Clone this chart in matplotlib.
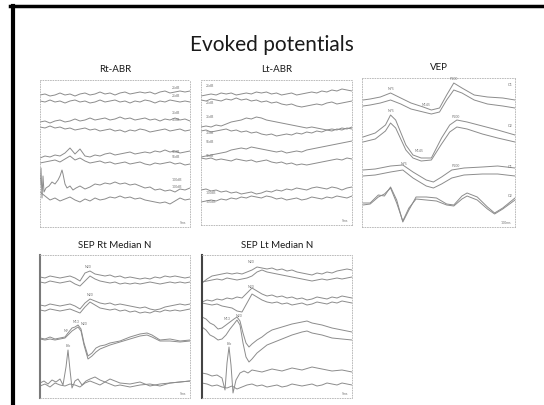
import numpy as np
import matplotlib
matplotlib.use('Agg')
import matplotlib.pyplot as plt
from matplotlib.lines import Line2D

plt.rcParams['font.family'] = ['Lato', 'DejaVu Sans']

# sweep positions (0-150 across each panel), amplitudes as offsets from panel top
grid = np.arange(0, 151, 5)

# ---- Rt-ABR ----
rt_abr = [
    (grid, [15,14,16,15,13,15,14,16,14,13,15,14,12,14,13,15,13,12,14,13,12,13,12,14,12,11,13,12,11,12,11]),
    (grid, [21,22,20,22,21,23,21,20,22,21,23,22,20,22,21,20,22,21,23,21,22,20,21,23,21,22,20,21,22,21,22]),
    (grid, [42,41,43,41,40,42,41,39,41,40,38,40,39,38,40,39,37,39,38,40,39,38,40,39,41,39,40,38,40,39,41]),
    (grid, [47,48,46,48,47,49,48,50,49,48,50,49,51,50,49,51,50,52,50,51,49,50,52,51,50,49,51,50,49,51,50]),
    (grid, [78,76,77,75,76,73,68,74,69,76,77,75,76,74,73,75,74,73,72,74,73,72,73,71,72,70,72,71,73,72,71]),
    (grid, [83,82,81,80,82,79,76,80,78,81,83,82,81,83,82,84,83,82,84,83,82,84,85,83,84,83,82,84,83,85,84]),
    ([0,1,2,3,4,6,9,12,15,18,20,22,23,25,27,30,33,36,40,45,50,55,60,65,70,75,80,85,90,95,100,105,110,115,120,125,130,135,140,145,150],
     [105,88,118,96,112,108,106,102,104,100,96,90,94,104,108,106,110,108,106,109,107,104,105,103,104,102,104,103,105,104,106,108,107,110,109,111,110,112,109,110,108]),
    (grid, [112,116,120,118,121,119,117,120,122,119,121,118,120,119,117,118,116,118,117,119,118,120,121,122,123,122,124,121,118,120,119]),
]
rt_abr_labels = [(132, 8, '25dB'), (132, 16, '25dB'), (132, 33, '35dB'), (132, 40, '35dB'),
                 (132, 72, '55dB'), (132, 77, '55dB'), (132, 100, '100dB'), (132, 107, '100dB')]

# ---- Lt-ABR ----
lt_abr = [
    (grid, [16,15,14,15,13,14,13,15,14,13,14,12,13,12,14,13,15,14,13,15,14,13,12,13,11,12,10,11,9,10,11]),
    (grid, [20,21,19,20,21,19,20,18,20,19,21,20,22,21,23,22,24,25,24,26,27,26,25,24,25,23,22,24,23,22,21]),
    (grid, [47,46,47,45,46,44,42,41,40,38,39,37,38,40,41,42,43,44,45,46,47,48,47,48,49,50,49,50,48,49,47]),
    (grid, [51,50,52,51,50,49,51,50,52,51,53,52,54,55,54,56,55,54,55,53,54,52,53,51,52,50,51,49,50,48,49]),
    (grid, [77,76,75,74,73,72,70,69,68,69,67,68,69,70,71,72,71,73,72,71,72,70,69,68,67,66,65,64,63,62,61]),
    (grid, [78,79,78,80,79,80,81,79,80,81,80,82,81,80,82,83,82,84,83,85,84,85,84,83,82,81,80,79,80,78,79]),
    (grid, [110,109,111,110,112,111,113,112,114,113,112,114,113,111,112,110,111,109,110,108,109,110,108,107,108,109,107,108,110,108,107]),
    (grid, [122,121,120,121,119,120,118,119,117,118,116,117,118,116,117,119,118,120,119,118,120,119,117,118,119,117,118,116,117,118,116]),
]
lt_abr_labels = [(5, 6, '25dB'), (5, 23, '25dB'), (5, 37, '35dB'), (5, 53, '35dB'),
                 (5, 62, '55dB'), (5, 76, '55dB'), (5, 113, '100dB'), (5, 122, '100dB')]

# ---- VEP ----
vep_a_x = [1,8,18,28,38,48,60,68,76,83,90,98,110,123,138,150]
vep_b_x = [1,13,23,28,33,43,50,58,68,78,86,93,103,118,133,150]
vep_c_x = [1,13,28,40,50,63,70,78,88,100,118,133,150]
vep_d_x = [1,8,16,22,28,34,40,46,53,63,73,83,90,98,103,113,123,130,138,150]
vep = [
    (vep_a_x, [22,21,19,15,20,25,29,32,30,17,5,10,17,19,20,22]),
    (vep_a_x, [28,27,25,22,26,31,34,36,34,22,12,15,22,26,28,30]),
    (vep_b_x, [59,55,47,37,42,67,77,80,80,60,47,42,44,48,52,57]),
    (vep_b_x, [64,61,53,45,50,72,80,83,82,66,54,49,51,56,60,64]),
    (vep_c_x, [92,91,88,87,94,102,104,99,92,90,89,88,90]),
    (vep_c_x, [98,97,94,92,100,108,110,106,100,97,96,96,98]),
    (vep_d_x, [125,125,117,118,109,122,144,132,119,119,120,126,127,118,115,119,129,135,130,120]),
    (vep_d_x, [127,126,119,116,110,125,143,130,121,122,123,127,128,121,118,122,131,136,131,122]),
]
vep_labels = [(25, 11, 'N75'), (86, 1, 'P100'), (58, 27, 'N145'), (143, 7, 'O1'),
              (25, 33, 'N75'), (88, 39, 'P100'), (52, 73, 'N145'), (143, 48, 'O2'),
              (38, 86, 'N75'), (88, 88, 'P100'), (143, 89, 'O1'), (143, 118, 'O2')]

# ---- SEP Rt Median N ----
sep_rt_c_x = [0,5,10,15,20,25,28,32,35,38,41,44,48,52,56,60,65,70,80,90,100,107,112,120,130,140,150]
sep_rt_d1_x = [0,4,8,12,16,20,23,26,28,30,32,35,38,42,46,50,55,60,65,70,75,80,90,100,110,120,130,140,150]
sep_rt_d2_x = [0,5,10,15,20,25,30,35,40,45,50,55,60,65,70,75,80,90,100,110,120,130,140,150]
sep_rt = [
    (grid, [22,23,21,22,23,22,21,23,26,18,16,19,20,21,20,22,21,23,22,23,24,23,24,22,23,21,22,21,22,23,22]),
    (grid, [27,28,26,27,28,27,26,29,31,26,21,24,26,27,28,27,29,28,29,28,29,28,27,28,29,28,27,28,27,28,27]),
    (grid, [50,51,49,50,51,50,49,51,54,48,44,46,48,49,48,50,49,50,51,52,53,52,54,55,54,52,51,50,49,50,49]),
    (grid, [55,56,54,55,56,55,54,56,58,52,47,50,53,54,55,54,56,55,57,56,58,57,58,56,57,55,56,55,56,55,54]),
    (sep_rt_c_x, [83,84,82,84,83,82,78,73,72,70,74,88,101,98,93,91,90,88,86,82,79,78,80,85,84,86,85]),
    (sep_rt_c_x, [84,85,84,85,84,83,80,76,74,72,76,90,104,101,97,94,92,90,87,84,81,80,82,86,86,87,86]),
    (sep_rt_d1_x, [128,126,129,125,127,124,130,112,95,115,133,126,124,130,126,124,122,125,127,124,126,128,129,127,131,129,128,127,126]),
    (sep_rt_d2_x, [131,129,132,128,130,131,129,130,132,128,126,128,130,127,129,131,130,132,130,129,131,128,127,126]),
]
sep_rt_labels = [(45, 12, 'N20'), (47, 40, 'N20'), (24, 76, 'N9'), (33, 67, 'N13'), (41, 69, 'N20'), (26, 91, 'Erb')]

# ---- SEP Lt Median N ----
sep_lt_c_x = [0,4,8,12,16,20,24,28,32,35,38,41,44,47,50,55,60,65,70,80,90,100,105,110,120,130,140,150]
sep_lt_d1_x = [0,5,10,15,20,23,25,27,29,31,34,38,42,46,50,60,70,80,90,100,110,120,130,140,150]
sep_lt = [
    (grid, [28,24,21,20,19,18,19,18,19,17,15,12,13,14,13,15,14,16,15,17,18,19,20,18,19,17,18,16,15,14,15]),
    (grid, [27,26,25,24,25,23,24,25,24,23,21,17,15,17,18,19,20,21,22,23,24,25,26,25,24,25,24,23,24,23,22]),
    (grid, [47,45,46,44,45,43,44,42,43,38,33,36,39,41,40,42,41,43,42,44,43,45,44,42,43,44,42,43,41,42,43]),
    (grid, [48,49,50,49,51,52,53,56,57,48,39,42,45,47,48,47,49,48,50,49,48,50,49,47,48,49,47,48,46,47,48]),
    (sep_lt_c_x, [62,64,68,70,74,73,70,67,64,62,66,78,88,92,89,85,82,78,75,72,69,67,66,68,70,73,75,77]),
    (sep_lt_c_x, [72,75,80,82,85,84,80,74,69,65,70,88,102,107,104,98,94,90,88,84,80,77,76,78,80,83,84,85]),
    (sep_lt_d1_x, [118,119,121,120,123,135,108,92,110,138,125,118,116,118,115,117,114,116,113,115,112,114,116,115,117]),
    (grid, [128,129,131,130,132,133,131,134,132,130,129,131,130,132,131,130,132,131,129,130,131,130,129,131,130,128,129,130,128,129,130]),
]
sep_lt_labels = [(46, 7, 'N20'), (46, 32, 'N20'), (22, 64, 'N13'), (34, 61, 'N20'), (25, 89, 'Erb')]

# panel placement in pixels: left, top, width, height
panels = [
    ('Rt-ABR', rt_abr, rt_abr_labels, '5ms', (40, 80, 150, 147), None),
    ('Lt-ABR', lt_abr, lt_abr_labels, '5ms', (201, 80, 151, 145), None),
    ('VEP', vep, vep_labels, '100ms', (362, 78, 153, 149), None),
    ('SEP Rt Median N', sep_rt, sep_rt_labels, '5ms', (40, 255, 150, 143), '#7a7a7a'),
    ('SEP Lt Median N', sep_lt, sep_lt_labels, '5ms', (202, 255, 150, 143), '#444444'),
]

W, H = 544, 405
fig = plt.figure(figsize=(W / 100, H / 100), dpi=100)
fig.patch.set_facecolor('white')

# slide frame (top and left edges only)
fig.add_artist(Line2D([10 / W, 1], [1 - 6 / H, 1 - 6 / H], color='black', lw=2.5))
fig.add_artist(Line2D([12.5 / W, 12.5 / W], [0, 1 - 6 / H], color='black', lw=3))

fig.text(0.5, 1 - 45 / H, 'Evoked potentials', ha='center', va='center', fontsize=15, color='#1a1a1a')

for title, traces, labels, scale, (l, t, w, h), left_edge in panels:
    ax = fig.add_axes([l / W, 1 - (t + h) / H, w / W, h / H])
    ax.set_xlim(0, 150)
    ax.set_ylim(h, 0)
    ax.set_xticks([])
    ax.set_yticks([])
    for s in ax.spines.values():
        s.set_linestyle((0, (1, 2)))
        s.set_color('#b0b0b0')
        s.set_linewidth(0.6)
    if left_edge:
        ax.spines['left'].set_linestyle('-')
        ax.spines['left'].set_color(left_edge)
        ax.spines['left'].set_linewidth(1.5)
    for x, y in traces:
        ax.plot(x, y, color='#8c8c8c', lw=0.7)
    for x, y, s in labels:
        ax.text(x, y, s, fontsize=2.5, color='#777777', va='center')
    ax.text(146, h - 4, scale, fontsize=2.5, color='#777777', ha='right', va='center')
    fig.text((l + w / 2) / W, 1 - (t - 10) / H, title, ha='center', va='center',
             fontsize=7, color='#1a1a1a')

fig.savefig('out.png', dpi=100)
